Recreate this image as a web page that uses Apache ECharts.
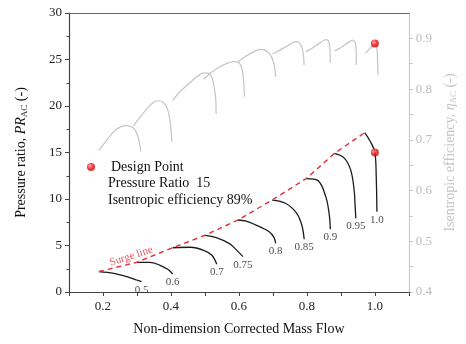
<!DOCTYPE html>
<html><head><meta charset="utf-8">
<script src="https://cdn.jsdelivr.net/npm/echarts@6/dist/echarts.min.js"></script>
<style>html,body{margin:0;padding:0;background:#fff}#c{width:466px;height:344px}</style>
</head><body><div id="c"></div>
<script>
// ---- data ----
const speedLabels = ['0.5','0.6','0.7','0.75','0.8','0.85','0.9','0.95','1.0'];
// pressure ratio speed lines [massFlow, PR]
const pr05 = [[0.188,2.2],[0.2318,2.01],[0.2702,1.65],[0.2991,1.29],[0.3134,1.11]];
const pr06 = [[0.299,3.19],[0.3377,3.19],[0.3665,2.9],[0.3905,2.44],[0.4049,1.94]];
const pr07 = [[0.405,4.76],[0.4577,4.81],[0.4964,4.48],[0.5204,3.95],[0.5348,2.98]];
const pr075 = [[0.5,6.1],[0.5335,5.85],[0.5721,5.2],[0.5912,4.58],[0.6118,3.8]];
const pr08 = [[0.597,7.74],[0.621,7.63],[0.650,7.2],[0.689,6.48],[0.703,5.88],[0.708,5.24]];
const pr085 = [[0.698,9.89],[0.737,9.54],[0.770,8.46],[0.785,7.2],[0.792,5.67]];
const pr09 = [[0.798,12.2],[0.832,12.0],[0.856,10.2],[0.866,8.25],[0.869,6.74]];
const pr095 = [[0.881,14.9],[0.910,14.4],[0.929,13.1],[0.939,10.97],[0.942,9.17],[0.944,7.92]];
const pr10 = [[0.970,17.13],[0.987,16.16],[1.0,15.0],[1.004,12.4],[1.006,8.63]];
// isentropic efficiency speed lines [massFlow, eta]
const eff05 = [[0.1885,0.679],[0.2115,0.700],[0.2346,0.718],[0.2519,0.7255],[0.2664,0.728],[0.2808,0.7265],[0.2924,0.7216],[0.301,0.710],[0.3068,0.696],[0.3117,0.677]];
const eff06 = [[0.2895,0.7275],[0.3097,0.745],[0.3327,0.764],[0.35,0.7747],[0.3645,0.777],[0.379,0.7727],[0.3905,0.759],[0.3977,0.7354],[0.4029,0.696]];
const eff07 = [[0.4049,0.7772],[0.4251,0.7943],[0.4482,0.808],[0.4713,0.8218],[0.4944,0.8316],[0.5088,0.8316],[0.5204,0.8236],[0.5276,0.8022],[0.5319,0.7786],[0.5328,0.751]];
const eff075 = [[0.4964,0.8193],[0.5203,0.8336],[0.5434,0.8434],[0.5665,0.8513],[0.5867,0.8542],[0.6012,0.8513],[0.6098,0.8375],[0.6141,0.8139],[0.6165,0.785]];
const eff08 = [[0.5974,0.8538],[0.6214,0.865],[0.6445,0.8739],[0.6647,0.8782],[0.682,0.8749],[0.6964,0.863],[0.705,0.8434],[0.7079,0.8238]];
const eff085 = [[0.6993,0.869],[0.7224,0.8778],[0.7455,0.8866],[0.7657,0.8935],[0.7772,0.8916],[0.7859,0.8807],[0.7902,0.865],[0.7916,0.8473]];
const eff09 = [[0.7974,0.8739],[0.8176,0.8817],[0.8378,0.8906],[0.8551,0.8974],[0.8638,0.8945],[0.8675,0.8807],[0.8687,0.8513]];
const eff095 = [[0.8811,0.8749],[0.9013,0.8827],[0.9215,0.8916],[0.9345,0.8965],[0.9417,0.8925],[0.9446,0.8768],[0.9455,0.8473]];
const eff10 = [[0.9726,0.8703],[0.985,0.8798],[0.9965,0.8866],[1.0,0.889],[1.006,0.8807],[1.008,0.8572],[1.0095,0.8277]];
// design point
const designFlow = 1.0;
const designPR = 15;
const designEff = 0.89;
const surgeLabelAt = [0.283, 3.85];

const prLines = [pr05, pr06, pr07, pr075, pr08, pr085, pr09, pr095, pr10];
const effLines = [eff05, eff06, eff07, eff075, eff08, eff085, eff09, eff095, eff10];
const surge = prLines.map(l => l[0]);

const FONT = 'Liberation Serif';
const dotColor = {type:'radial', x:0.38, y:0.35, r:0.75, colorStops:[
  {offset:0, color:'#ff9c9c'},{offset:0.45, color:'#ee1414'},{offset:1, color:'#c00000'}]};

const series = [];
effLines.forEach(l => series.push({
  type:'line', xAxisIndex:0, yAxisIndex:1, data:l, showSymbol:false, symbol:'none',
  smooth:0.25, lineStyle:{color:'#c4c4c4', width:1.2}, silent:true, z:2
}));
prLines.forEach(l => series.push({
  type:'line', xAxisIndex:0, yAxisIndex:0, data:l, showSymbol:false, symbol:'none',
  smooth:0.35, lineStyle:{color:'#1a1a1a', width:1.3}, silent:true, z:3
}));
series.push({
  type:'line', xAxisIndex:0, yAxisIndex:0, data:surge, symbol:'none', smooth:false,
  lineStyle:{color:'#e0303a', width:1.4, type:[5,4]}, z:4, silent:true
});
// speed labels at curve ends
series.push({
  type:'scatter', xAxisIndex:0, yAxisIndex:0, symbol:'circle', symbolSize:1,
  itemStyle:{color:'rgba(0,0,0,0)'}, silent:true, z:5,
  data: prLines.map((l,i) => ({value:l[l.length-1], name:speedLabels[i]})),
  label:{show:true, position:'bottom', distance:2, formatter:p => p.name,
    fontFamily:FONT, fontSize:11, color:'#222'}
});
// surge line label
series.push({
  type:'scatter', xAxisIndex:0, yAxisIndex:0, symbol:'circle', symbolSize:1,
  itemStyle:{color:'rgba(0,0,0,0)'}, silent:true, z:5,
  data:[{value:surgeLabelAt, name:'Surge line'}],
  label:{show:true, position:'inside', formatter:p => p.name, rotate:18,
    fontFamily:FONT, fontSize:11, color:'#e0303a'}
});
series.push({
  name:'Design Point', type:'scatter', xAxisIndex:0, yAxisIndex:0,
  data:[[designFlow, designPR]], symbol:'circle', symbolSize:8,
  itemStyle:{color:dotColor}, z:10
});
series.push({
  name:'Design Point', type:'scatter', xAxisIndex:0, yAxisIndex:1,
  data:[[designFlow, designEff]], symbol:'circle', symbolSize:8,
  itemStyle:{color:dotColor}, z:10
});

const chart = echarts.init(document.getElementById('c'), null, {renderer:'canvas'});
chart.setOption({
  animation:false,
  backgroundColor:'#fff',
  textStyle:{fontFamily:FONT},
  grid:{left:69, right:50, top:13, bottom:52, containLabel:false},
  legend:{
    data:['Design Point'], left:82, top:155, icon:'circle', itemWidth:30, itemHeight:8,
    textStyle:{fontFamily:FONT, fontSize:14, color:'#111'}, selectedMode:false
  },
  graphic:[
    {type:'text', left:108, top:176, style:{text:'Pressure Ratio  ' + designPR,
      font:'14px "Liberation Serif"', fill:'#111'}},
    {type:'text', left:108, top:193, style:{text:'Isentropic efficiency ' + Math.round(designEff*100) + '%',
      font:'14px "Liberation Serif"', fill:'#111'}}
  ],
  xAxis:[{
    type:'value', position:'bottom', min:0.1, max:1.1, interval:0.1,
    axisLine:{show:true, lineStyle:{color:'#444', width:1.2}},
    axisTick:{show:true, length:4, lineStyle:{color:'#444'}},
    axisLabel:{fontFamily:FONT, fontSize:13, color:'#222', margin:8,
      formatter:v => (Math.round(v*10) % 2 === 0 ? v.toFixed(1) : '')},
    splitLine:{show:false},
    name:'Non-dimension Corrected Mass Flow', nameLocation:'middle', nameGap:30,
    nameTextStyle:{fontFamily:FONT, fontSize:14, color:'#111'}
  },{
    type:'value', position:'top', min:0.1, max:1.1,
    axisLine:{show:true, lineStyle:{color:'#666', width:1.2}},
    axisTick:{show:false}, axisLabel:{show:false}, splitLine:{show:false}
  }],
  yAxis:[{
    type:'value', position:'left', min:0, max:30, interval:5,
    axisLine:{show:true, lineStyle:{color:'#444', width:1.2}},
    axisTick:{show:true, length:4, lineStyle:{color:'#444'}},
    minorTick:{show:true, splitNumber:2, length:2.5, lineStyle:{color:'#444'}},
    axisLabel:{fontFamily:FONT, fontSize:13, color:'#222', margin:7},
    splitLine:{show:false},
    name:'{n|Pressure ratio, }{i|PR}{s|AC}{n| (-)}', nameLocation:'middle', nameGap:40,
    nameTextStyle:{rich:{
      n:{fontFamily:FONT, fontSize:14, color:'#111'},
      i:{fontFamily:FONT, fontSize:14, color:'#111', fontStyle:'italic'},
      s:{fontFamily:FONT, fontSize:9, color:'#111', padding:[7,0,0,0]}
    }}
  },{
    type:'value', position:'right', min:0.4, max:0.95, interval:0.05,
    axisLine:{show:true, lineStyle:{color:'#c8c8c8', width:1.2}},
    axisTick:{show:true, length:4, lineStyle:{color:'#c8c8c8'}},
    axisLabel:{fontFamily:FONT, fontSize:13, color:'#bdbdbd', margin:7, showMaxLabel:false,
      formatter:v => (Math.round(v*100) % 10 === 0 ? v.toFixed(1) : '')},
    splitLine:{show:false},
    name:'{n|Isentropic efficiency, }{i|η}{s|AC}{n| (-)}', nameLocation:'middle', nameGap:30,
    nameTextStyle:{rich:{
      n:{fontFamily:FONT, fontSize:14, color:'#c4c4c4'},
      i:{fontFamily:FONT, fontSize:14, color:'#c4c4c4', fontStyle:'italic'},
      s:{fontFamily:FONT, fontSize:9, color:'#c4c4c4', padding:[7,0,0,0]}
    }}
  }],
  series:series
});
</script>
</body></html>
